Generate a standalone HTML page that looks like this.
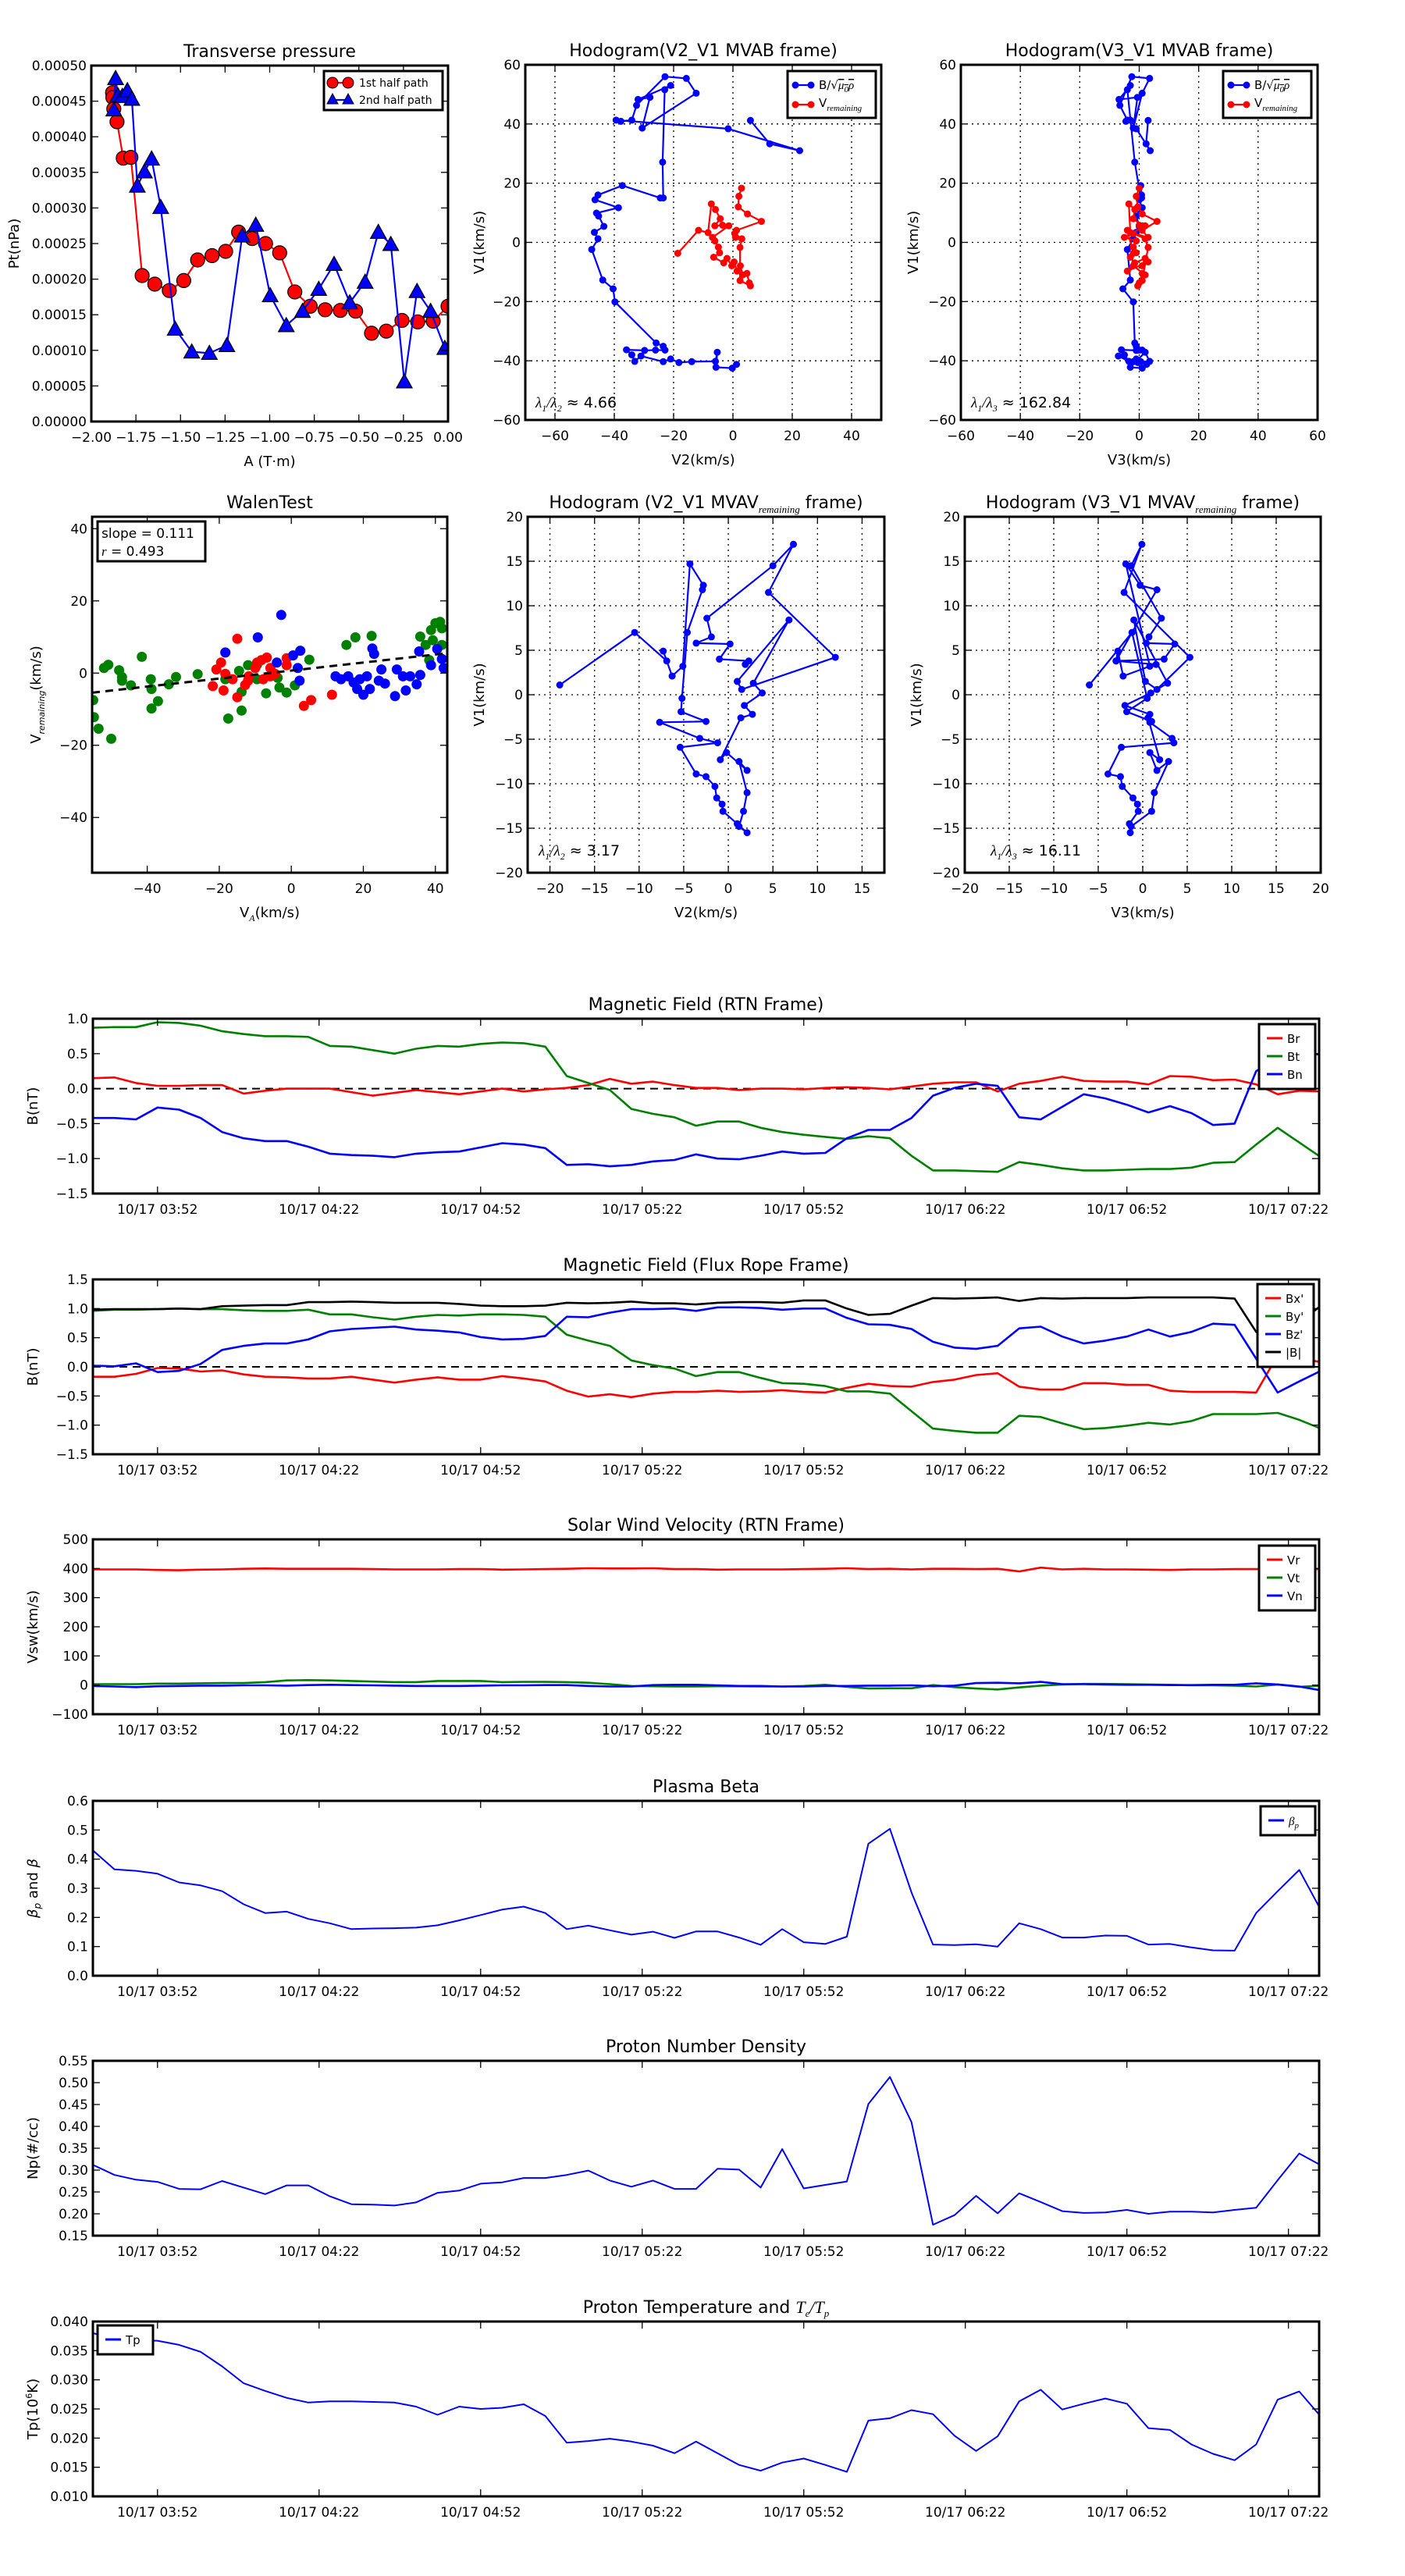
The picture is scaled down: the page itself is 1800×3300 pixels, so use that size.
<!DOCTYPE html>
<html><head><meta charset="utf-8"><title>Flux rope analysis</title>
<style>
body{margin:0;background:#fff;}
svg{display:block;font-family:"DejaVu Sans","Liberation Sans",sans-serif;}
.yl{font-family:"DejaVu Sans","Liberation Sans",sans-serif;}
</style></head><body>
<svg id="fig" width="1800" height="3300" viewBox="0 0 1800 3300"></svg>
<script>
// ---------- Transverse pressure ----------
const tpRedA=[-1.881,-1.879,-1.874,-1.856,-1.821,-1.778,-1.715,-1.644,-1.563,-1.482,-1.404,-1.323,-1.247,-1.174,-1.098,-1.023,-0.944,-0.859,-0.773,-0.689,-0.604,-0.518,-0.429,-0.346,-0.258,-0.170,-0.083,0.000];
const tpRedP=[0.000462,0.000455,0.000439,0.000421,0.000370,0.000371,0.000205,0.000193,0.000184,0.000198,0.000227,0.000233,0.000239,0.000266,0.000257,0.000250,0.000237,0.000182,0.000162,0.000157,0.000156,0.000155,0.000124,0.000127,0.000142,0.000140,0.000141,0.000162];
const tpBlueA=[-1.874,-1.864,-1.851,-1.826,-1.798,-1.773,-1.742,-1.702,-1.662,-1.611,-1.530,-1.437,-1.338,-1.240,-1.154,-1.078,-0.997,-0.907,-0.816,-0.725,-0.639,-0.551,-0.465,-0.391,-0.321,-0.245,-0.174,-0.098,-0.018];
const tpBlueP=[0.000438,0.000482,0.000458,0.000457,0.000465,0.000453,0.000331,0.000351,0.000369,0.000301,0.000130,0.000098,0.000096,0.000107,0.000261,0.000276,0.000177,0.000135,0.000155,0.000186,0.000221,0.000167,0.000196,0.000266,0.000249,0.000056,0.000183,0.000155,0.000103];
const tpXTicks=[-2.00,-1.75,-1.50,-1.25,-1.00,-0.75,-0.50,-0.25,0.00];
const tpYTicks=[0,0.00005,0.0001,0.00015,0.0002,0.00025,0.0003,0.00035,0.0004,0.00045,0.0005];

// ---------- Hodogram MVAB ----------
const hbV2=[1.2,-0.2,-5.7,-5.3,-5.9,-13.9,-18.2,-21,-23.5,-31,-33.1,-34.1,-35.9,-29.8,-26.1,-22.9,-23.5,-25.9,-39.8,-40.4,-43.9,-47.6,-45.5,-46.7,-43.5,-45.3,-46,-38.6,-46.5,-45.5,-37.3,-24.5,-23.5,-23.7,-23,-21,-32,-28,-30.6,-12.4,-15.7,-22.9,-32.5,-34.1,-37.8,-39.4,-1.6,22.5,12.4,5.9];
const hbV1=[-41.2,-42.5,-42.2,-37.1,-40.2,-40.3,-40.6,-39.4,-40.3,-38.4,-40.2,-38,-36.3,-36.5,-36.4,-36.4,-35.1,-34,-20.1,-15.7,-12.7,-2.4,1.2,3.4,5.4,8.9,9.9,11.7,14.4,16,19.2,15,15,27.1,51.6,53,48.3,49,38.6,50.4,55.4,56,46.3,41.3,40.9,41.3,38.4,31.0,33.3,41.2];
const hbV3=[2.5,1,-3,2,3.5,0.5,-0.5,-1,-2,-7,-3.5,-5,-6,-1,1,0,-1,-1.5,-2,-5.5,-3,-4,-2,-1,0,-1,0.5,1,0,0.8,0.5,0.8,0.5,-1.5,-4,-3,-6.8,-0.6,-2,1,3.5,-2.5,-6.5,-4,-4.5,-3,-1,3.7,2.3,3];
const hrV2=[-18.6,-11.6,-8.4,-7.3,-5.9,-4.3,-6.1,-3.5,-1.4,-6.9,-6.1,-4.9,-4.5,-6.5,-3.1,-2,-0.4,0.4,1.4,2.5,3.3,4.7,5.5,5.9,2.4,2.4,3,0.6,0.9,1.2,9.6,4.9,1.8,2,2.9];
const hrV1=[-3.7,4.1,3.3,13.0,11.1,8.0,5.6,5.8,5.6,1.7,0.5,-1.6,-3.5,-5,-6.9,-5.4,-7.9,-6.6,-9.7,-7.9,-11,-10.5,-13.7,-14.7,-12.9,-1.7,1.2,3.0,1.7,4.1,7.1,9.6,12,15.6,18.3];
const hrV3=[-2,-4,-3,-3.5,-1.5,-2,1,0,2,-5,-1,-2,-1,-3,-1.5,2,1,3,-4,-2,2,1,0,-0.5,1,3,2,-2,3,1,6,1,-0.5,-1,0];
const hodoTicksA=[-60,-40,-20,0,20,40];
const hodoTicksB=[-60,-40,-20,0,20,40,60];
const hodoYTicks=[-60,-40,-20,0,20,40,60];

// ---------- Walen test ----------
const wgX=[-55,-54.8,-53.5,-50,-52,-50.8,-47.8,-47,-47,-44.5,-41.5,-39,-38.8,-38.8,-37,-34,-32,-26,-17.5,-13.8,-13.8,-12,-9.5,-7,-3.8,-3.3,-1.3,1,5,15.3,17.8,22.3,35.8,37.3,38.3,38.8,40,41.3,41.8,39.3,41.8,-9.5,-14.5,-18.3];
const wgY=[-7.5,-12.2,-15.4,-18.2,1.4,2.3,0.8,-1.1,-2.1,-3.4,4.5,-1.7,-4.4,-9.8,-7.8,-3.1,-1.1,-0.3,-12.6,-10.4,-5.2,2.2,-1.7,-5.6,-1.3,-4,-5.4,-3.4,3.7,7.8,9.9,10.3,10.1,7.8,3.6,11.9,13.8,14.2,12.4,9.1,7.8,2.3,0.6,-1.7];
const wrX=[-15,-18.3,-19.5,-20.8,-21.8,-18.8,-16.3,-15,-12.8,-11.8,-10,-8.3,-6.8,-5.8,-5.8,-4.5,-1.3,-1.3,3.5,5.5,11.3,-9.5,-18.3,-12,-7.8];
const wrY=[9.5,5.7,2.9,1,-3.6,-4.8,-1.7,-6.7,-3.3,-0.9,1.4,3.6,4.3,1.4,-0.9,-0.2,4.1,2.2,-9.1,-7.5,-6,2.9,-0.2,-2.1,-1.7];
const wbX=[-2.8,-9.3,-18.3,-4,0.5,2.5,1.8,2.3,12.3,13.8,15.8,17.3,19,20,21,22.5,23,21.8,25,26,28.8,29.3,31,31.8,33,34.8,35.5,35.8,40.5,41.8,42.3,38.8,24.3,18.3];
const wbY=[16.1,9.9,5.7,2.9,4.9,6.2,1.4,-2.1,-0.9,-1.7,-0.9,-2.6,-1.7,-6,-0.9,6.8,5.3,-4.4,1,-2.9,-6.4,1,-0.9,-4.8,-0.9,-3.1,6,-0.5,6.7,3.9,1.4,2.2,-2.1,-4.4];
const walenSlope=0.111, walenIntercept=0.7;
const walenTicks=[-40,-20,0,20,40];

// ---------- Hodogram MVAV remaining ----------
const hvV2=[-18.9,-10.5,-6.9,-7.3,-6.3,-5.1,-4.3,-2.8,-2.9,-4.6,-5.2,-5.3,-2.5,-7.7,-3.2,-1.2,-5.4,-3.6,-2.5,-1.5,-1.3,-0.7,-0.6,1.0,2.1,1.2,1.7,2.1,1.2,2.1,-0.2,-0.9,1.4,2.7,1.8,3.8,2.8,6.8,1.0,1.5,12.0,4.5,7.3,5.0,-2.4,-1.9,-3.6,0.2,-1,2.3,1.9];
const hvV1=[1.1,7.0,3.8,4.9,2.1,3.2,14.7,12.3,11.8,7.0,-0.4,-1.9,-3.0,-3.1,-4.9,-5.4,-5.9,-8.9,-9.2,-10.3,-11.6,-12.3,-13.1,-14.5,-15.5,-14.8,-13.1,-11.0,-7.5,-8.5,-6.5,-7.3,-2.6,-2.2,-1.2,0.2,1.3,8.4,1.5,0.6,4.2,11.5,16.9,14.5,8.6,6.5,5.8,5.7,4,3.8,3.4];
const hvV3=[-6.0,-1.2,-3.0,-2.8,-2.2,0.8,-1.9,-0.3,1.6,-1.2,0.5,-1.8,1.0,0.8,3.3,3.5,-2.4,-3.9,-2.5,-2.3,-1.1,-0.6,-0.5,-1.5,-1.4,-1.3,1.0,1.3,2.9,1.6,0.8,1.9,0.6,0.8,-2.0,0.9,2.8,-1.0,0.3,1.6,5.3,-2.1,-0.1,-1.3,2.1,0.7,0.4,3.6,2.4,-3.0,1.5];
const hvXTicksA=[-20,-15,-10,-5,0,5,10,15];
const hvXTicksB=[-20,-15,-10,-5,0,5,10,15,20];
const hvYTicks=[-20,-15,-10,-5,0,5,10,15,20];

// ---------- Time series (minutes after 03:40) ----------
const tMin=[0,4,8,12,16,20,24,28,32,36,40,44,48,52,56,60,64,68,72,76,80,84,88,92,96,100,104,108,112,116,120,124,128,132,136,140,144,148,152,156,160,164,168,172,176,180,184,188,192,196,200,204,208,212,216,220,224,228];
const timeTickMin=[12,42,72,102,132,162,192,222];
const timeTickLabels=["10/17 03:52","10/17 04:22","10/17 04:52","10/17 05:22","10/17 05:52","10/17 06:22","10/17 06:52","10/17 07:22"];
const br=[0.15,0.16,0.08,0.04,0.04,0.05,0.05,-0.07,-0.03,0.0,0.0,0.0,-0.05,-0.10,-0.06,-0.02,-0.05,-0.08,-0.04,0.0,-0.04,-0.01,0.01,0.05,0.14,0.07,0.10,0.05,0.01,0.01,-0.02,0.0,0.0,-0.01,0.01,0.02,0.01,-0.01,0.03,0.07,0.09,0.09,-0.04,0.07,0.11,0.17,0.11,0.10,0.10,0.06,0.18,0.17,0.12,0.13,0.06,-0.08,-0.03,-0.04];
const bt=[0.87,0.88,0.88,0.95,0.94,0.90,0.82,0.78,0.75,0.75,0.74,0.61,0.60,0.55,0.50,0.57,0.61,0.60,0.64,0.66,0.65,0.60,0.18,0.08,-0.02,-0.29,-0.36,-0.41,-0.53,-0.47,-0.47,-0.56,-0.62,-0.66,-0.69,-0.72,-0.68,-0.71,-0.96,-1.17,-1.17,-1.18,-1.19,-1.05,-1.09,-1.14,-1.17,-1.17,-1.16,-1.15,-1.15,-1.13,-1.06,-1.05,-0.80,-0.56,-0.77,-0.98];
const bn=[-0.42,-0.42,-0.44,-0.27,-0.30,-0.42,-0.62,-0.71,-0.75,-0.75,-0.83,-0.93,-0.95,-0.96,-0.98,-0.93,-0.91,-0.90,-0.84,-0.78,-0.80,-0.85,-1.09,-1.08,-1.11,-1.09,-1.04,-1.02,-0.94,-1.00,-1.01,-0.96,-0.90,-0.93,-0.92,-0.71,-0.59,-0.59,-0.42,-0.10,0.01,0.07,0.04,-0.41,-0.44,-0.26,-0.08,-0.14,-0.23,-0.34,-0.25,-0.35,-0.52,-0.50,0.25,0.45,0.55,0.48];
const bxp=[-0.17,-0.17,-0.12,-0.02,-0.03,-0.08,-0.06,-0.13,-0.17,-0.18,-0.20,-0.20,-0.17,-0.22,-0.27,-0.22,-0.18,-0.22,-0.22,-0.16,-0.20,-0.25,-0.41,-0.51,-0.47,-0.52,-0.46,-0.43,-0.43,-0.41,-0.43,-0.42,-0.40,-0.43,-0.44,-0.36,-0.29,-0.33,-0.34,-0.26,-0.22,-0.14,-0.11,-0.34,-0.39,-0.39,-0.28,-0.28,-0.31,-0.31,-0.41,-0.43,-0.43,-0.43,-0.44,0.20,0.15,0.08];
const byp=[0.96,0.98,0.98,0.99,1.0,0.99,0.99,0.97,0.96,0.96,0.98,0.90,0.90,0.85,0.81,0.86,0.89,0.88,0.90,0.90,0.89,0.86,0.55,0.45,0.36,0.11,0.03,-0.03,-0.16,-0.09,-0.09,-0.19,-0.28,-0.29,-0.33,-0.42,-0.42,-0.46,-0.76,-1.06,-1.10,-1.13,-1.13,-0.84,-0.86,-0.97,-1.07,-1.05,-1.01,-0.96,-0.99,-0.93,-0.81,-0.81,-0.81,-0.79,-0.91,-1.06];
const bzp=[0.02,0.01,0.06,-0.09,-0.07,0.05,0.29,0.36,0.40,0.40,0.47,0.61,0.65,0.67,0.69,0.64,0.62,0.59,0.51,0.47,0.48,0.53,0.86,0.85,0.93,0.99,0.99,1.0,0.96,1.02,1.02,1.01,0.98,1.0,1.0,0.84,0.73,0.72,0.65,0.43,0.33,0.31,0.36,0.66,0.69,0.52,0.40,0.45,0.52,0.64,0.52,0.60,0.74,0.72,0.14,-0.44,-0.25,-0.07];
const bmag=[0.98,0.99,0.99,0.99,1.0,0.99,1.04,1.05,1.06,1.06,1.11,1.11,1.12,1.11,1.10,1.10,1.10,1.08,1.05,1.04,1.04,1.05,1.10,1.09,1.10,1.12,1.09,1.09,1.07,1.10,1.11,1.11,1.10,1.14,1.14,1.0,0.89,0.91,1.05,1.18,1.17,1.18,1.19,1.13,1.18,1.17,1.18,1.18,1.18,1.19,1.19,1.19,1.19,1.17,0.6,0.25,0.75,1.05];
const vr=[397,397,397,395,394,396,397,399,400,399,399,399,399,398,397,397,397,398,398,396,397,398,399,401,400,400,401,398,398,396,397,397,397,398,399,401,398,399,397,399,399,398,399,390,403,397,399,397,397,396,395,397,397,398,398,398,398,398];
const vt=[3,3,3,5,5,6,7,7,10,16,17,16,14,12,10,10,14,14,14,10,11,11,10,8,3,-3,-4,-5,-5,-4,-4,-5,-5,-3,1,-6,-12,-11,-11,0,-7,-12,-15,-8,-2,2,4,4,3,2,1,-1,-1,-2,-5,2,-6,-2];
const vn=[-3,-5,-7,-4,-3,-2,-2,-1,-1,-2,0,1,0,-1,-2,-3,-3,-3,-2,-1,-1,0,0,-3,-5,-5,0,1,1,-1,-3,-3,-5,-5,-3,-3,-2,-2,-1,-4,-2,7,8,6,11,3,3,2,1,1,0,0,1,1,6,2,-5,-18];
const betaP=[0.43,0.365,0.36,0.35,0.32,0.31,0.29,0.245,0.215,0.22,0.195,0.18,0.16,0.162,0.163,0.165,0.173,0.19,0.208,0.227,0.237,0.215,0.16,0.172,0.156,0.141,0.151,0.13,0.152,0.152,0.131,0.106,0.16,0.115,0.109,0.134,0.453,0.504,0.286,0.107,0.105,0.108,0.10,0.18,0.16,0.131,0.131,0.138,0.137,0.107,0.109,0.097,0.087,0.086,0.215,0.29,0.363,0.226];
const np=[0.312,0.289,0.278,0.273,0.257,0.256,0.275,0.26,0.245,0.265,0.265,0.24,0.222,0.221,0.219,0.226,0.248,0.253,0.269,0.272,0.282,0.282,0.289,0.299,0.276,0.262,0.276,0.257,0.257,0.303,0.301,0.26,0.348,0.258,0.266,0.274,0.451,0.513,0.41,0.175,0.197,0.241,0.201,0.247,0.227,0.206,0.202,0.203,0.209,0.2,0.205,0.205,0.203,0.209,0.214,0.277,0.338,0.311];
const tp=[0.038,0.037,0.0368,0.0367,0.036,0.0348,0.0323,0.0294,0.0281,0.0269,0.0261,0.0263,0.0263,0.0262,0.0261,0.0254,0.024,0.0254,0.025,0.0252,0.0258,0.0238,0.0192,0.0195,0.0199,0.0194,0.0187,0.0174,0.0194,0.0174,0.0154,0.0144,0.0158,0.0165,0.0154,0.0142,0.023,0.0234,0.0248,0.0241,0.0204,0.0178,0.0203,0.0263,0.0283,0.0249,0.0259,0.0268,0.0259,0.0217,0.0214,0.0189,0.0173,0.0162,0.0189,0.0266,0.028,0.0237];
const rtnYTicks=[-1.5,-1.0,-0.5,0.0,0.5,1.0];
const frYTicks=[-1.5,-1.0,-0.5,0.0,0.5,1.0,1.5];
const swYTicks=[-100,0,100,200,300,400,500];
const betaYTicks=[0.0,0.1,0.2,0.3,0.4,0.5,0.6];
const npYTicks=[0.15,0.20,0.25,0.30,0.35,0.40,0.45,0.50,0.55];
const tpYTicksT=[0.010,0.015,0.020,0.025,0.030,0.035,0.040];

// ================= drawing =================
const NS='http://www.w3.org/2000/svg';
const fig=document.getElementById('fig');
let clipId=0;
function mk(tag,attrs,parent){const e=document.createElementNS(NS,tag);for(const k in attrs)e.setAttribute(k,attrs[k]);(parent||fig).appendChild(e);return e;}
function fmt(v,d){const s=Math.abs(v).toFixed(d);return (v<-1e-12?'\u2212':'')+s;}

function axes(c){
  const g=mk('g',{});
  
  
  const sx=v=>c.x0+(v-c.xmin)/(c.xmax-c.xmin)*(c.x1-c.x0);
  const sy=v=>c.y1-(v-c.ymin)/(c.ymax-c.ymin)*(c.y1-c.y0);
  const cid='clip'+(clipId++);
  const cp=mk('clipPath',{id:cid},g);
  mk('rect',{x:c.x0,y:c.y0,width:c.x1-c.x0,height:c.y1-c.y0},cp);
  const plot=mk('g',{'clip-path':'url(#'+cid+')'},g);
  
  
  if(c.grid){
    c.xt.forEach(v=>{const x=sx(v);const l=mk('line',{x1:x,x2:x,y1:c.y0,y2:c.y1,stroke:'#000','stroke-width':1.3,'stroke-dasharray':'2,5'},plot);
      
      });
    c.yt.forEach(v=>{const y=sy(v);const l=mk('line',{x1:c.x0,x2:c.x1,y1:y,y2:y,stroke:'#000','stroke-width':1.3,'stroke-dasharray':'2,5'},plot);
      
      });
  }
  const tg=mk('g',{'font-size':c.fs||17,fill:'#000'},g);
  
  
  c.xt.forEach((v,i)=>{const x=sx(v);
    mk('line',{x1:x,x2:x,y1:c.y1,y2:c.y1-9,stroke:'#000','stroke-width':1.3},tg);
    mk('line',{x1:x,x2:x,y1:c.y0,y2:c.y0+9,stroke:'#000','stroke-width':1.3},tg);
    const t=mk('text',{x:x,y:c.y1+26,'text-anchor':'middle'},tg);
    t.textContent=c.xl[i];
    
    });
  c.yt.forEach((v,i)=>{const y=sy(v);
    mk('line',{x1:c.x0,x2:c.x0+9,y1:y,y2:y,stroke:'#000','stroke-width':1.3},tg);
    mk('line',{x1:c.x1,x2:c.x1-9,y1:y,y2:y,stroke:'#000','stroke-width':1.3},tg);
    const t=mk('text',{x:c.x0-6,y:y+6,'text-anchor':'end'},tg);
    t.textContent=c.yl[i];
    
    });
  const ti=mk('text',{x:(c.x0+c.x1)/2,y:c.y0-11,'text-anchor':'middle','font-size':22},g);
  
  
  if(c.titleHTML){ti.innerHTML=c.titleHTML;}else{ti.textContent=c.title;}
  if(c.xlabel){const xl=mk('text',{x:(c.x0+c.x1)/2,y:c.y1+57,'text-anchor':'middle','font-size':18},g);
    
    
    xl.innerHTML=c.xlabel;}
  if(c.ylabel){const yl=mk('text',{x:c.ylx,y:(c.y0+c.y1)/2,'text-anchor':'middle','font-size':18,'class':'yl',transform:'rotate(-90 '+c.ylx+' '+(c.y0+c.y1)/2+')'},g);
    
    
    yl.innerHTML=c.ylabel;}
  return {g,plot,sx,sy,c};
}
function frame(a){const c=a.c;const r=mk('rect',{x:c.x0,y:c.y0,width:c.x1-c.x0,height:c.y1-c.y0,fill:'none',stroke:'#000','stroke-width':3},a.g);
  
  }
function poly(a,xs,ys,color,w,name){const n=Math.min(xs.length,ys.length);let d='';
  for(let i=0;i<n;i++){d+=(i?'L':'M')+a.sx(xs[i]).toFixed(1)+','+a.sy(ys[i]).toFixed(1);}
  const p=mk('path',{d:d,fill:'none',stroke:color,'stroke-width':w,'stroke-linejoin':'round'},a.plot);
  
  return p;}
function dots(a,xs,ys,color,r,name,edge){const g=mk('g',{fill:color},a.plot);
  
  
  const n=Math.min(xs.length,ys.length);
  for(let i=0;i<n;i++){const c=mk('circle',{cx:a.sx(xs[i]).toFixed(1),cy:a.sy(ys[i]).toFixed(1),r:r},g);
    if(edge){c.setAttribute('stroke','#000');c.setAttribute('stroke-width',1.2);}
    
    }}
function tris(a,xs,ys,color,s,name){const g=mk('g',{fill:color,stroke:'#000','stroke-width':1.2},a.plot);
  
  
  const n=Math.min(xs.length,ys.length);
  for(let i=0;i<n;i++){const x=a.sx(xs[i]),y=a.sy(ys[i]);
    const p=mk('polygon',{points:(x)+','+(y-s)+' '+(x-s)+','+(y+s*0.8)+' '+(x+s)+','+(y+s*0.8)},g);
    
    }}
function legendBox(x,y,w,h,name){const g=mk('g',{});
  
  
  mk('rect',{x:x,y:y,width:w,height:h,fill:'#fff',stroke:'#000','stroke-width':3},g);return g;}
function legText(g,x,y,html,fs){const t=mk('text',{x:x,y:y,'font-size':fs||15},g);t.innerHTML=html;
  
  return t;}

// ---- Transverse pressure ----
(function(){
  const a=axes({name:'transverse-pressure',x0:117,x1:574,y0:84,y1:540,xmin:-2,xmax:0,ymin:0,ymax:0.0005,
    xt:tpXTicks,xl:tpXTicks.map(v=>fmt(v,2)),yt:tpYTicks,yl:tpYTicks.map(v=>fmt(v,5)),
    title:'Transverse pressure',xlabel:'A (T\u00b7m)',ylabel:'Pt(nPa)',ylx:24});
  poly(a,tpRedA,tpRedP,'#f00',2.2,'first-half-path-line');
  dots(a,tpRedA,tpRedP,'#f00',9,'first-half-path-markers',true);
  poly(a,tpBlueA,tpBlueP,'#00f',2.2,'second-half-path-line');
  tris(a,tpBlueA,tpBlueP,'#00f',10,'second-half-path-markers');
  frame(a);
  const lg=legendBox(415,91,152,50,'pressure-legend');
  mk('line',{x1:424,x2:448,y1:106,y2:106,stroke:'#f00','stroke-width':2.2},lg);
  mk('circle',{cx:426,cy:106,r:7,fill:'#f00',stroke:'#000'},lg);mk('circle',{cx:446,cy:106,r:7,fill:'#f00',stroke:'#000'},lg);
  legText(lg,460,111,'1st half path',14);
  mk('line',{x1:424,x2:448,y1:128,y2:128,stroke:'#00f','stroke-width':2.2},lg);
  mk('polygon',{points:'426,120 419,133 433,133',fill:'#00f',stroke:'#000'},lg);mk('polygon',{points:'446,120 439,133 453,133',fill:'#00f',stroke:'#000'},lg);
  legText(lg,460,133,'2nd half path',14);
})();

const bLeg='B/<tspan>\u221a</tspan><tspan text-decoration="overline" font-style="italic" font-family="Liberation Serif">\u03bc<tspan font-size="11" dy="4">0</tspan><tspan dy="-4">\u03c1</tspan></tspan>';
const vLeg='V<tspan font-size="11" dy="5" font-style="italic" font-family="Liberation Serif">remaining</tspan>';
function hodoLegend(x,y,name){const lg=legendBox(x,y,113,60,name);
  mk('line',{x1:x+8,x2:x+32,y1:y+18,y2:y+18,stroke:'#00f','stroke-width':2.2},lg);
  mk('circle',{cx:x+10,cy:y+18,r:4.5,fill:'#00f'},lg);mk('circle',{cx:x+30,cy:y+18,r:4.5,fill:'#00f'},lg);
  legText(lg,x+40,y+23,bLeg,15);
  mk('line',{x1:x+8,x2:x+32,y1:y+43,y2:y+43,stroke:'#f00','stroke-width':2.2},lg);
  mk('circle',{cx:x+10,cy:y+43,r:4.5,fill:'#f00'},lg);mk('circle',{cx:x+30,cy:y+43,r:4.5,fill:'#f00'},lg);
  legText(lg,x+40,y+46,vLeg,15);}
function lamText(a,x,y,sub,val,name){const t=mk('text',{x:x,y:y,'font-size':19},a.g);
  t.innerHTML='<tspan font-style="italic" font-family="Liberation Serif">\u03bb<tspan font-size="12" dy="5">1</tspan><tspan dy="-5">/\u03bb</tspan><tspan font-size="12" dy="5">'+sub+'</tspan></tspan><tspan dy="-5"> \u2248 '+val+'</tspan>';
  
  }

// ---- Hodogram V2-V1 MVAB ----
(function(){
  const a=axes({name:'hodogram-v2-v1-mvab',x0:673,x1:1129,y0:83,y1:538,xmin:-70,xmax:50,ymin:-60,ymax:60,grid:true,
    xt:hodoTicksA,xl:hodoTicksA.map(v=>fmt(v,0)),yt:hodoYTicks,yl:hodoYTicks.map(v=>fmt(v,0)),
    title:'Hodogram(V2_V1 MVAB frame)',xlabel:'V2(km/s)',ylabel:'V1(km/s)',ylx:620});
  poly(a,hbV2,hbV1,'#00f',2.2,'b-alfven-path');dots(a,hbV2,hbV1,'#00f',4.5,'b-alfven-markers');
  poly(a,hrV2,hrV1,'#f00',2.2,'v-remaining-path');dots(a,hrV2,hrV1,'#f00',4.5,'v-remaining-markers');
  frame(a);hodoLegend(1009,91,'hodogram-mvab-v2-legend');
  lamText(a,686,522,'2','4.66','eigenvalue-ratio-label');
})();
// ---- Hodogram V3-V1 MVAB ----
(function(){
  const a=axes({name:'hodogram-v3-v1-mvab',x0:1231,x1:1688,y0:83,y1:538,xmin:-60,xmax:60,ymin:-60,ymax:60,grid:true,
    xt:hodoTicksB,xl:hodoTicksB.map(v=>fmt(v,0)),yt:hodoYTicks,yl:hodoYTicks.map(v=>fmt(v,0)),
    title:'Hodogram(V3_V1 MVAB frame)',xlabel:'V3(km/s)',ylabel:'V1(km/s)',ylx:1176});
  poly(a,hbV3,hbV1,'#00f',2.2,'b-alfven-path');dots(a,hbV3,hbV1,'#00f',4.5,'b-alfven-markers');
  poly(a,hrV3,hrV1,'#f00',2.2,'v-remaining-path');dots(a,hrV3,hrV1,'#f00',4.5,'v-remaining-markers');
  frame(a);hodoLegend(1567,91,'hodogram-mvab-v3-legend');
  lamText(a,1244,522,'3','162.84','eigenvalue-ratio-label');
})();
// ---- Walen test ----
(function(){
  const a=axes({name:'walen-test',x0:118,x1:573,y0:662,y1:1118,xmin:-55.3,xmax:43.3,ymin:-55.3,ymax:43.3,
    xt:walenTicks,xl:walenTicks.map(v=>fmt(v,0)),yt:walenTicks,yl:walenTicks.map(v=>fmt(v,0)),
    title:'WalenTest',xlabel:'V<tspan font-size="12" dy="5" font-style="italic" font-family="Liberation Serif">A</tspan><tspan dy="-5">(km/s)</tspan>',
    ylabel:'V<tspan font-size="11" dy="5" font-style="italic">remaining</tspan><tspan dy="-5">(km/s)</tspan>',ylx:52});
  dots(a,wgX,wgY,'#008000',6.5,'walen-green-points');
  dots(a,wrX,wrY,'#f00',6.5,'walen-red-points');
  dots(a,wbX,wbY,'#00f',6.5,'walen-blue-points');
  const fl=mk('line',{x1:a.sx(-55.3),y1:a.sy(walenSlope*-55.3+walenIntercept),x2:a.sx(43.3),y2:a.sy(walenSlope*43.3+walenIntercept),stroke:'#000','stroke-width':3,'stroke-dasharray':'10,7'},a.plot);
  
  
  frame(a);
  const lg=legendBox(125,668,138,51,'walen-stats-box');
  legText(lg,130,689,'slope = 0.111',17);
  legText(lg,130,712,'<tspan font-style="italic" font-family="Liberation Serif">r</tspan> = 0.493',17);
})();
// ---- Hodogram MVAV ----
const mvavTitle2='Hodogram (V2_V1 MVAV<tspan font-size="13" dy="6" font-style="italic" font-family="Liberation Serif">remaining</tspan><tspan dy="-6"> frame)</tspan>';
const mvavTitle3='Hodogram (V3_V1 MVAV<tspan font-size="13" dy="6" font-style="italic" font-family="Liberation Serif">remaining</tspan><tspan dy="-6"> frame)</tspan>';
(function(){
  const a=axes({name:'hodogram-v2-v1-mvav',x0:676,x1:1133,y0:662,y1:1118,xmin:-22.5,xmax:17.5,ymin:-20,ymax:20,grid:true,
    xt:hvXTicksA,xl:hvXTicksA.map(v=>fmt(v,0)),yt:hvYTicks,yl:hvYTicks.map(v=>fmt(v,0)),
    titleHTML:mvavTitle2,xlabel:'V2(km/s)',ylabel:'V1(km/s)',ylx:620});
  poly(a,hvV2,hvV1,'#00f',2.2,'v-remaining-path');dots(a,hvV2,hvV1,'#00f',4.5,'v-remaining-markers');
  frame(a);lamText(a,690,1096,'2','3.17','eigenvalue-ratio-label');
})();
(function(){
  const a=axes({name:'hodogram-v3-v1-mvav',x0:1236,x1:1692,y0:662,y1:1118,xmin:-20,xmax:20,ymin:-20,ymax:20,grid:true,
    xt:hvXTicksB,xl:hvXTicksB.map(v=>fmt(v,0)),yt:hvYTicks,yl:hvYTicks.map(v=>fmt(v,0)),
    titleHTML:mvavTitle3,xlabel:'V3(km/s)',ylabel:'V1(km/s)',ylx:1180});
  poly(a,hvV3,hvV1,'#00f',2.2,'v-remaining-path');dots(a,hvV3,hvV1,'#00f',4.5,'v-remaining-markers');
  frame(a);lamText(a,1269,1096,'3','16.11','eigenvalue-ratio-label');
})();

// ---- Time series ----
function ts(c,series,legend,zero){
  c.x0=119;c.x1=1690;c.xmin=0;c.xmax=227.7;c.xt=timeTickMin;c.xl=timeTickLabels;c.y1=c.y0+224;c.ylx=48;
  const a=axes(c);
  if(zero){const z=mk('line',{x1:c.x0,x2:c.x1,y1:a.sy(0),y2:a.sy(0),stroke:'#000','stroke-width':2,'stroke-dasharray':'10,7'},a.plot);
    
    }
  series.forEach(s=>poly(a,tMin,s.v,s.col,s.w||2.6,s.name));
  frame(a);
  if(legend){const n=series.length;const lg=legendBox(legend.x,legend.y,legend.w||72,n*23+14,c.name+'-legend');
    series.forEach((s,i)=>{const y=legend.y+18+i*23;
      mk('line',{x1:legend.x+10,x2:legend.x+30,y1:y,y2:y,stroke:s.col,'stroke-width':3},lg);
      legText(lg,legend.x+36,y+6,s.label,15);});}
}
ts({name:'magnetic-field-rtn',y0:1305,ymin:-1.5,ymax:1.0,yt:rtnYTicks,yl:rtnYTicks.map(v=>fmt(v,1)),title:'Magnetic Field (RTN Frame)',ylabel:'B(nT)'},
  [{v:br,col:'#f00',name:'br-line',label:'Br'},{v:bt,col:'#008000',name:'bt-line',label:'Bt'},{v:bn,col:'#00f',name:'bn-line',label:'Bn'}],{x:1613,y:1312},true);
ts({name:'magnetic-field-flux-rope',y0:1639,ymin:-1.5,ymax:1.5,yt:frYTicks,yl:frYTicks.map(v=>fmt(v,1)),title:'Magnetic Field (Flux Rope Frame)',ylabel:'B(nT)'},
  [{v:bxp,col:'#f00',name:'bx-prime-line',label:"Bx'"},{v:byp,col:'#008000',name:'by-prime-line',label:"By'"},{v:bzp,col:'#00f',name:'bz-prime-line',label:"Bz'"},{v:bmag,col:'#000',name:'b-magnitude-line',label:'|B|'}],{x:1611,y:1645},true);
ts({name:'solar-wind-velocity',y0:1972,ymin:-100,ymax:500,yt:swYTicks,yl:swYTicks.map(v=>fmt(v,0)),title:'Solar Wind Velocity (RTN Frame)',ylabel:'Vsw(km/s)'},
  [{v:vr,col:'#f00',name:'vr-line',label:'Vr'},{v:vt,col:'#008000',name:'vt-line',label:'Vt'},{v:vn,col:'#00f',name:'vn-line',label:'Vn'}],{x:1613,y:1980},false);
ts({name:'plasma-beta',y0:2307,ymin:0,ymax:0.6,yt:betaYTicks,yl:betaYTicks.map(v=>fmt(v,1)),title:'Plasma Beta',ylabel:'<tspan font-style="italic">\u03b2<tspan font-size="12" dy="4">p</tspan></tspan><tspan dy="-4"> and </tspan><tspan font-style="italic">\u03b2</tspan>'},
  [{v:betaP,col:'#00f',w:2,name:'beta-p-line',label:'<tspan font-style="italic" font-family="Liberation Serif">\u03b2<tspan font-size="11" dy="4">p</tspan></tspan>'}],{x:1615,y:2314,w:70},false);
ts({name:'proton-number-density',y0:2640,ymin:0.15,ymax:0.55,yt:npYTicks,yl:npYTicks.map(v=>fmt(v,2)),title:'Proton Number Density',ylabel:'Np(#/cc)'},
  [{v:np,col:'#00f',w:2,name:'np-line',label:'Np'}],null,false);
ts({name:'proton-temperature',y0:2974,ymin:0.010,ymax:0.040,yt:tpYTicksT,yl:tpYTicksT.map(v=>fmt(v,3)),
  titleHTML:'Proton Temperature and <tspan font-style="italic" font-family="Liberation Serif">T<tspan font-size="13" dy="5">e</tspan><tspan dy="-5">/T</tspan><tspan font-size="13" dy="5">p</tspan></tspan>',
  ylabel:'Tp(10<tspan font-size="11" dy="-7">6</tspan><tspan dy="7">K)</tspan>'},
  [{v:tp,col:'#00f',w:2,name:'tp-line',label:'Tp'}],{x:125,y:2979,w:71},false);
</script>
</body></html>
